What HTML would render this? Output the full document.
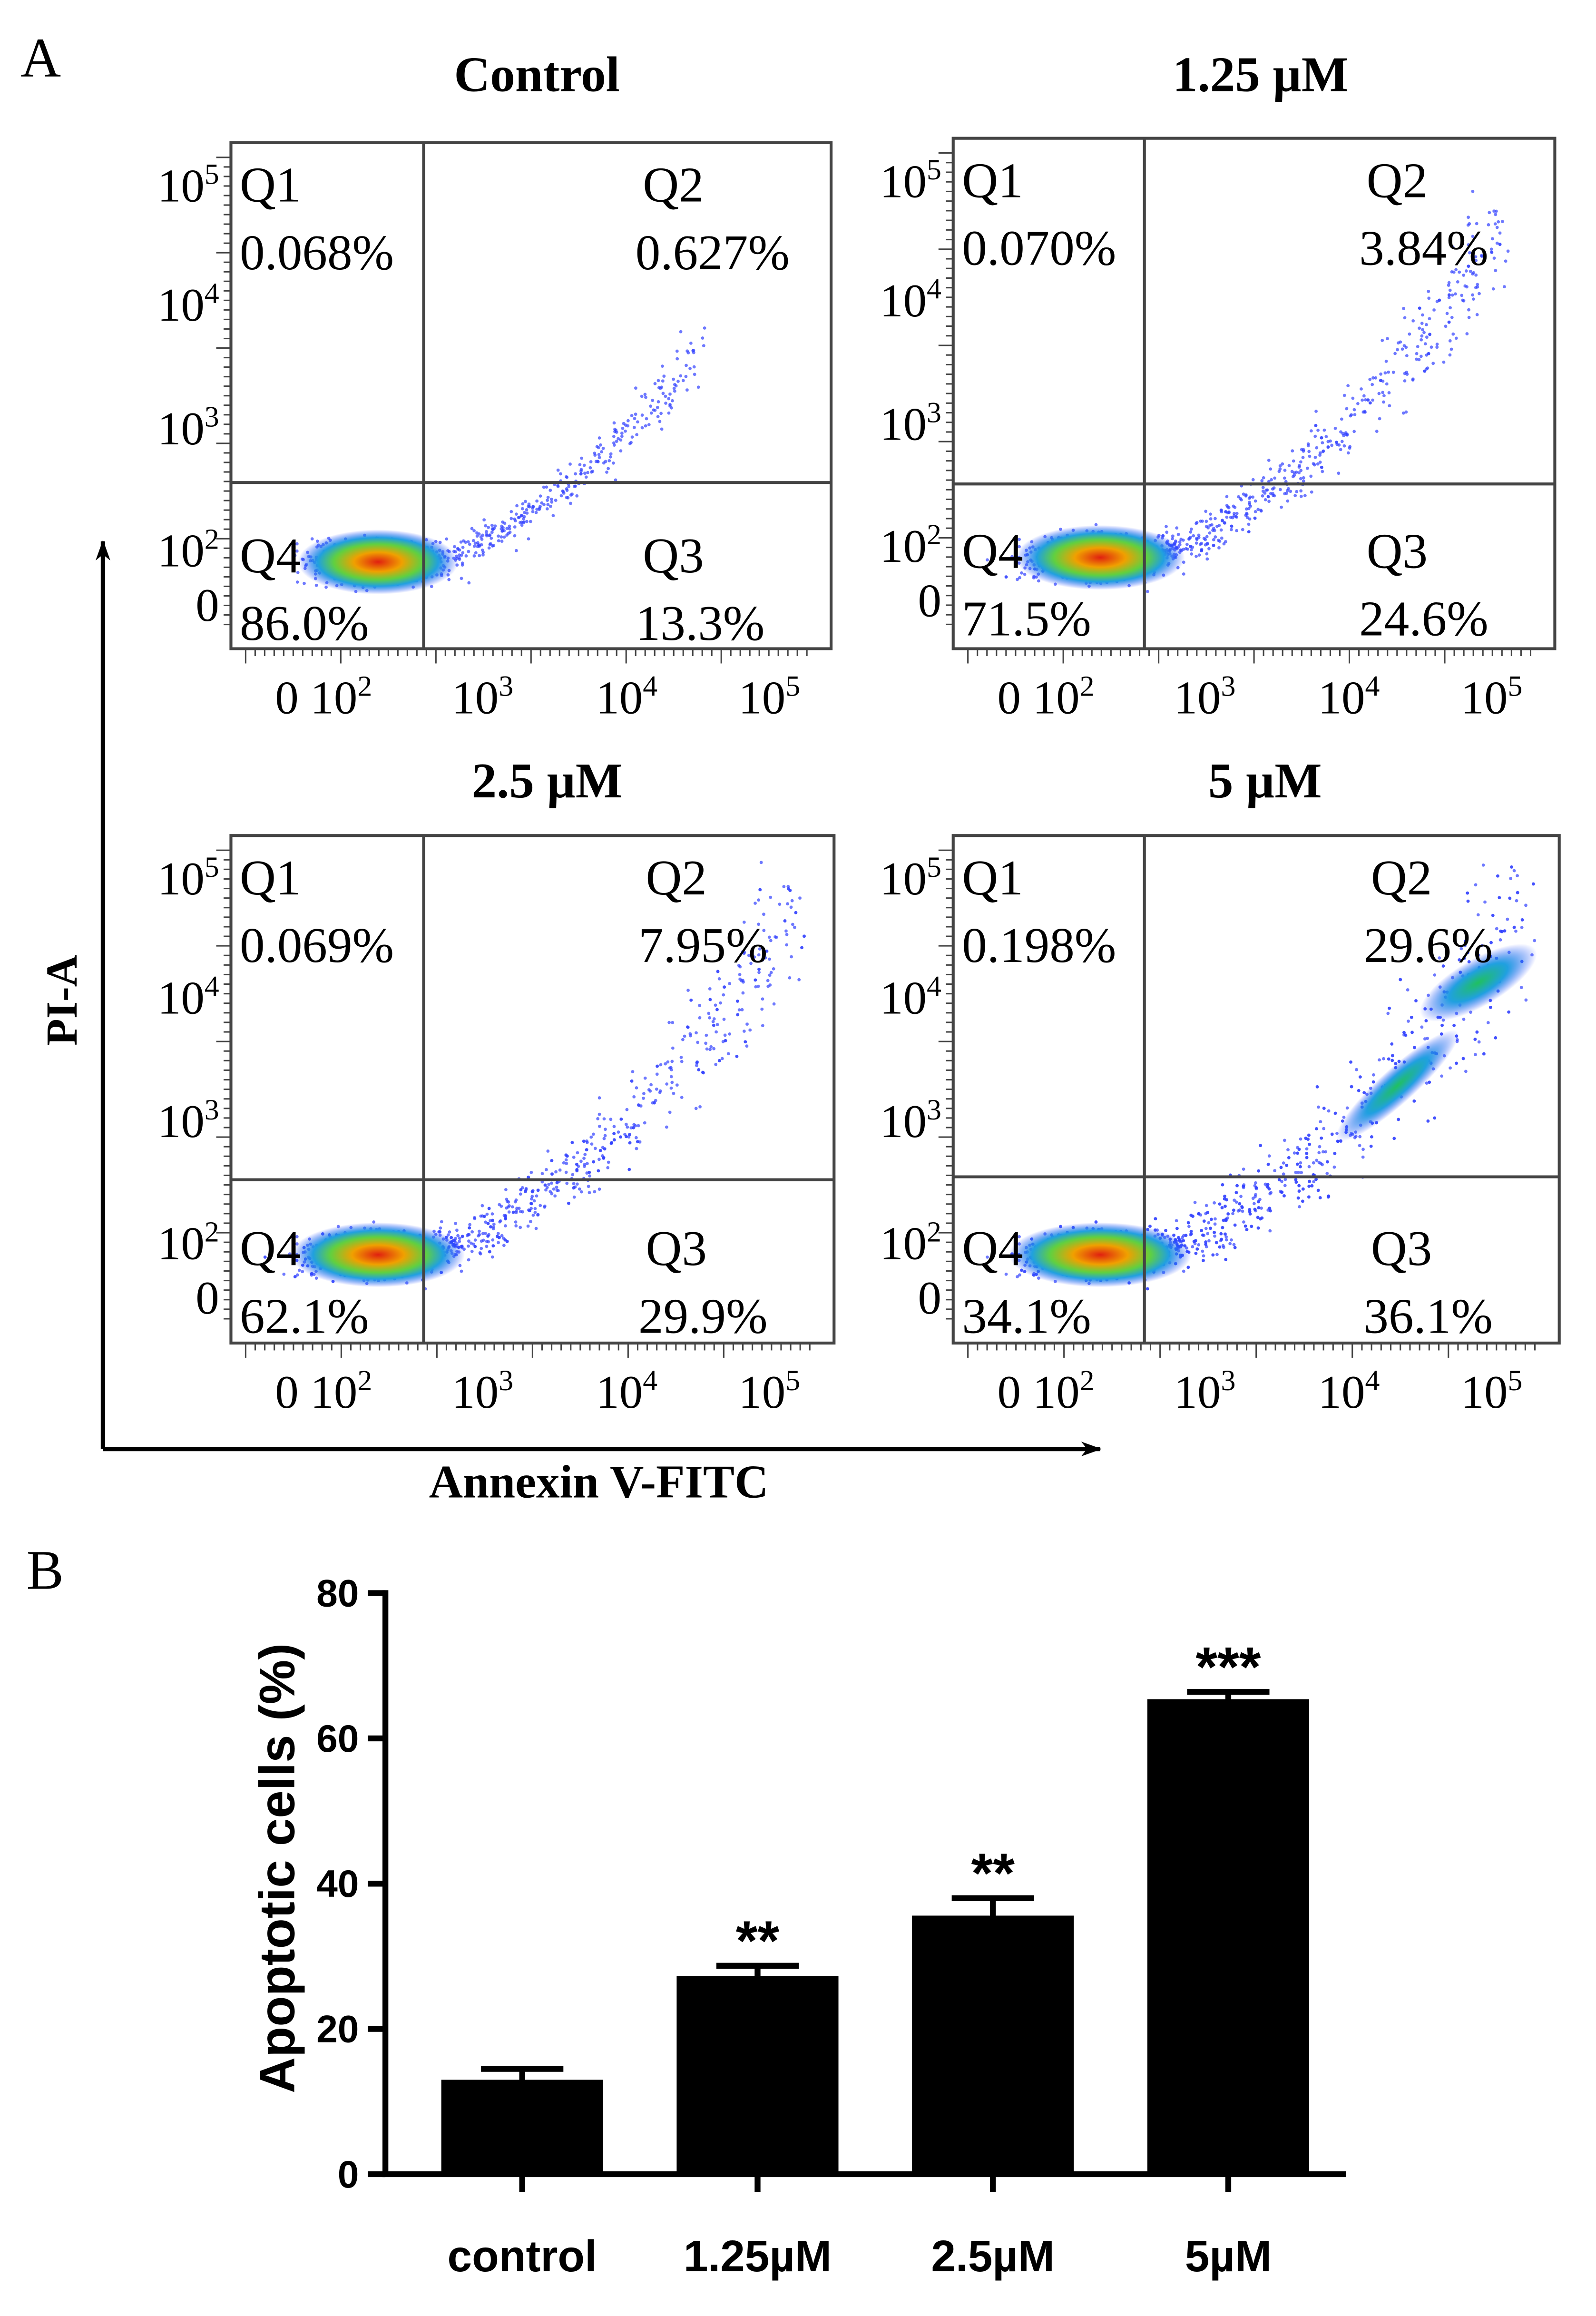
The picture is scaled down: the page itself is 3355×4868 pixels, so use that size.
<!DOCTYPE html>
<html><head><meta charset="utf-8">
<style>
html,body{margin:0;padding:0;background:#fff;}
svg{display:block;}
.serif{font-family:"Liberation Serif",serif;}
.sans{font-family:"Liberation Sans",sans-serif;font-weight:bold;}
</style></head>
<body>
<svg id="fig" width="3355" height="4868" viewBox="0 0 1085 1574.4" preserveAspectRatio="none" xmlns="http://www.w3.org/2000/svg">
<defs>
<radialGradient id="heat">
<stop offset="0" stop-color="#e02010"/>
<stop offset="0.3" stop-color="#f0a000"/>
<stop offset="0.55" stop-color="#60d040"/>
<stop offset="0.75" stop-color="#20a0e0"/>
<stop offset="1" stop-color="#2040ff" stop-opacity="0"/>
</radialGradient>
<radialGradient id="heatg">
<stop offset="0" stop-color="#20c060"/>
<stop offset="0.5" stop-color="#20a0e0"/>
<stop offset="1" stop-color="#2040ff" stop-opacity="0"/>
</radialGradient>
<marker id="arr" markerWidth="14" markerHeight="10" refX="13" refY="5" orient="auto" markerUnits="userSpaceOnUse">
<path d="M0,0 L14,5 L0,10 L4,5 Z" fill="#000"/>
</marker>
</defs>
<text class="serif" x="14" y="52" font-size="38">A</text>
<text class="serif" x="18" y="1080" font-size="38">B</text>
<g id="flow"></g>
<line x1="70" y1="985" x2="70" y2="368" stroke="#000" stroke-width="3" marker-end="url(#arr)"/>
<line x1="70" y1="985" x2="748" y2="985" stroke="#000" stroke-width="3" marker-end="url(#arr)"/>
<text class="serif" font-size="30" font-weight="bold" transform="translate(52,680) rotate(-90)" text-anchor="middle">PI-A</text>
<text class="serif" x="407" y="1018" font-size="32" font-weight="bold" text-anchor="middle">Annexin V-FITC</text>
<g id="bars"></g>
</svg>
<script>
// ---------- Bar chart data ----------
const categories = ["control","1.25\u00B5M","2.5\u00B5M","5\u00B5M"];
const values = [13, 27.3, 35.6, 65.4];
const errors = [1.5, 1.4, 2.4, 1.0];
const stars = ["", "**", "**", "***"];
const yTicks = [0,20,40,60,80];

// ---------- Flow panels data ----------
const panelTitles = ["Control","1.25 \u00B5M","2.5 \u00B5M","5 \u00B5M"];
const q1 = ["0.068%","0.070%","0.069%","0.198%"];
const q2 = ["0.627%","3.84%","7.95%","29.6%"];
const q3 = ["13.3%","24.6%","29.9%","36.1%"];
const q4 = ["86.0%","71.5%","62.1%","34.1%"];

const NS="http://www.w3.org/2000/svg";
function mk(tag, attrs, parent, txt){
  const e=document.createElementNS(NS,tag);
  for(const k in attrs) e.setAttribute(k,attrs[k]);
  if(txt!==undefined) e.textContent=txt;
  parent.appendChild(e); return e;
}
let seed=12345;
function rnd(){seed=(seed*1103515245+12345)%2147483648;return seed/2147483648;}
function gauss(){return (rnd()+rnd()+rnd()+rnd()-2)/1.15;}

const flow=document.getElementById('flow');
const layouts=[
 {x:157,y:97,w:408,h:344,dx:288,dy:328,tx:365,ty:62},
 {x:648,y:94,w:409,h:347,dx:778,dy:329,tx:857,ty:62},
 {x:157,y:568,w:410,h:345,dx:288,dy:802,tx:372,ty:542},
 {x:648,y:568,w:412,h:345,dx:778,dy:800,tx:860,ty:542}
];
const spread=[0.25,0.55,0.7,1.0];
const rise=[140,220,230,230];
const reach=[90,35,25,25];
layouts.forEach((L,i)=>{
  const g=mk('g',{},flow);
  
  
  const t=mk('text',{class:'serif','font-size':34,'font-weight':'bold','text-anchor':'middle',x:L.tx,y:L.ty},g,panelTitles[i]);
  
  
  const s=spread[i];
  const cx=L.x+95, cy=L.y+285;
  const n=Math.round(500+1200*s);
  const span=(L.x+L.w-reach[i])-(cx+30);
  for(let k=0;k<n;k++){
    let px,py;
    if(rnd()<0.5){px=cx+gauss()*45; py=cy+gauss()*16;}
    else{
      const tt=Math.pow(rnd(),1.3);
      px=cx+30+tt*span+gauss()*25*s;
      py=cy-Math.pow(tt,1.6)*rise[i]+gauss()*(8+45*s*tt);
    }
    if(px<L.x+3||px>L.x+L.w-3||py<L.y+3||py>L.y+L.h-3) continue;
    mk('circle',{cx:px.toFixed(1),cy:py.toFixed(1),r:1.1,fill:'#3040ff','fill-opacity':0.7},g);
  }
  const b=mk('ellipse',{cx:cx+5,cy:cy,rx:52+10*s,ry:22,fill:'url(#heat)'},g);
  
  
  if(i==3){mk('ellipse',{cx:L.x+L.w-55,cy:L.y+100,rx:45,ry:16,fill:'url(#heatg)',transform:'rotate(-30 '+(L.x+L.w-55)+' '+(L.y+100)+')'},g);
    mk('ellipse',{cx:L.x+L.w-110,cy:L.y+170,rx:55,ry:12,fill:'url(#heatg)',transform:'rotate(-42 '+(L.x+L.w-110)+' '+(L.y+170)+')'},g);}
  const r=mk('rect',{x:L.x,y:L.y,width:L.w,height:L.h,fill:'none',stroke:'#444','stroke-width':2},g);
  
  
  mk('line',{x1:L.dx,y1:L.y,x2:L.dx,y2:L.y+L.h,stroke:'#444','stroke-width':2},g);
  mk('line',{x1:L.x,y1:L.dy,x2:L.x+L.w,y2:L.dy,stroke:'#444','stroke-width':2},g);
  const fs=34;
  const ql=[["Q1",L.x+6,L.y+40],["Q2",L.x+L.w-128,L.y+40],["Q3",L.x+L.w-128,L.y+292],["Q4",L.x+6,L.y+292]];
  const qv=[[q1[i],L.x+6,L.y+86],[q2[i],L.x+L.w-133,L.y+86],[q3[i],L.x+L.w-133,L.y+338],[q4[i],L.x+6,L.y+338]];
  ql.forEach(q=>{const e=mk('text',{class:'serif','font-size':fs,x:q[1],y:q[2]},g,q[0]);
    
    });
  qv.forEach(q=>{const e=mk('text',{class:'serif','font-size':fs,x:q[1],y:q[2]},g,q[0]);
    
    });
  const yl=[["10","5",L.y+40],["10","4",L.y+121],["10","3",L.y+205],["10","2",L.y+288],["0","",L.y+325]];
  yl.forEach(v=>{
    const e=mk('text',{class:'serif','font-size':32,x:L.x-8,y:v[2],'text-anchor':'end'},g);
    
    
    mk('tspan',{},e,v[0]);
    if(v[1]){mk('tspan',{'font-size':20,dy:-12},e,v[1]);}
  });
  const xl=[["0 10","2",L.x+30],["10","3",L.x+150],["10","4",L.x+248],["10","5",L.x+345]];
  xl.forEach(v=>{
    const e=mk('text',{class:'serif','font-size':32,x:v[2],y:L.y+L.h+44},g);
    
    
    mk('tspan',{},e,v[0]);mk('tspan',{'font-size':20,dy:-12},e,v[1]);
  });
  for(let k=0;k<60;k++){const xx=L.x+10+k*(L.w-20)/60; mk('line',{x1:xx,y1:L.y+L.h,x2:xx,y2:L.y+L.h+(k%10==0?10:5),stroke:'#444','stroke-width':1},g);}
  for(let k=0;k<50;k++){const yy=L.y+10+k*(L.h-20)/50; mk('line',{x1:L.x,y1:yy,x2:L.x-(k%10==0?10:5),y2:yy,stroke:'#444','stroke-width':1},g);}
});

// ---------- Bar chart ----------
const bars=document.getElementById('bars');
const X0=262, X1=915, Y0=1478, Ytop=1083, VMAX=80;
const yScale=v=>Y0-(v/VMAX)*(Y0-Ytop);
const bandStart=300, bandStep=160, barW=110;
const xScale=i=>bandStart+i*bandStep;
const yAxis=mk('line',{x1:X0,y1:Ytop-2,x2:X0,y2:Y0,stroke:'#000','stroke-width':4},bars);


const xAxis=mk('line',{x1:X0-2,y1:Y0,x2:X1,y2:Y0,stroke:'#000','stroke-width':4},bars);


yTicks.forEach(v=>{
  const y=yScale(v);
  mk('line',{x1:X0-12,y1:y,x2:X0,y2:y,stroke:'#000','stroke-width':4},bars);
  const e=mk('text',{class:'sans','font-size':26,x:X0-18,y:y+9,'text-anchor':'end'},bars,String(v));
  
  
});
const yt=mk('text',{class:'sans','font-size':34,'text-anchor':'middle',transform:'translate(200,1270) rotate(-90)'},bars,'Apoptotic cells (%)');


categories.forEach((c,i)=>{
  const x=xScale(i), y=yScale(values[i]), ye=yScale(values[i]+errors[i]);
  const cxm=x+barW/2;
  const eb=mk('line',{x1:cxm,y1:ye,x2:cxm,y2:y,stroke:'#000','stroke-width':4},bars);
  
  
  mk('line',{x1:cxm-28,y1:ye,x2:cxm+28,y2:ye,stroke:'#000','stroke-width':4},bars);
  const r=mk('rect',{x:x,y:y,width:barW,height:Y0-y,fill:'#000'},bars);
  
  
  mk('line',{x1:cxm,y1:Y0,x2:cxm,y2:Y0+12,stroke:'#000','stroke-width':4},bars);
  const l=mk('text',{class:'sans','font-size':30,x:cxm,y:1544,'text-anchor':'middle'},bars,c);
  
  
  if(stars[i]){
    const s=mk('text',{class:'sans','font-size':38,x:cxm,y:ye-4,'text-anchor':'middle'},bars,stars[i]);
    
    
  }
});
</script>
</body></html>
